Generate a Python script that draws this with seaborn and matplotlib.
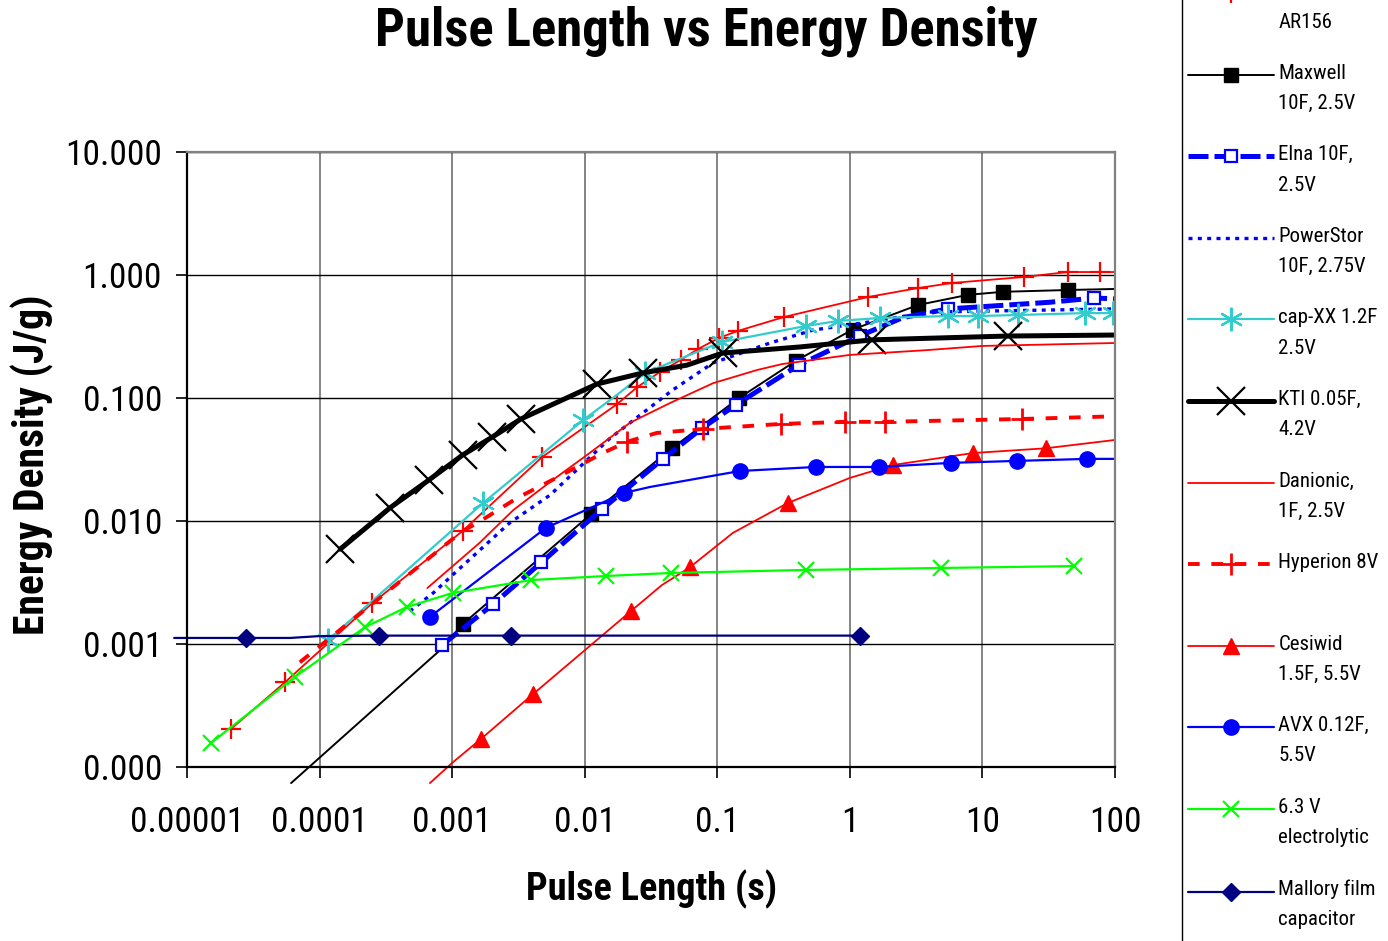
import numpy as np
import matplotlib
matplotlib.use("Agg")
import matplotlib.pyplot as plt
import seaborn as sns
from matplotlib.legend_handler import HandlerLine2D
from matplotlib.ticker import FixedLocator, FixedFormatter, NullLocator

sns.set_theme(style="white")
plt.rcParams['font.family'] = ['Roboto Condensed', 'DejaVu Sans']

# Data (pulse length in s, energy density in J/g)
ar156_x = [2.15e-5, 5.5e-5, 2.5e-4, 1.2e-3, 4.75e-3, 0.0175, 0.025, 0.037, 0.053, 0.0715, 0.103, 0.143, 0.32, 1.37, 3.26, 5.9, 20.5, 44, 77, 100]
ar156_y = [2.04e-4, 4.9e-4, 2.15e-3, 8.3e-3, 0.033, 0.089, 0.123, 0.163, 0.204, 0.25, 0.308, 0.351, 0.456, 0.662, 0.783, 0.861, 0.964, 1.057, 1.057, 1.057]
ar156_mk = list(range(19))

maxwell_x = [6.1e-5, 8.1e-4, 1.2e-3, 0.0112, 0.0455, 0.146, 0.39, 1.05, 3.26, 7.8, 14.3, 44, 100]
maxwell_y = [7.4e-5, 8.9e-4, 1.45e-3, 0.0114, 0.039, 0.1, 0.2, 0.36, 0.57, 0.69, 0.73, 0.755, 0.77]
maxwell_mk = [2, 3, 4, 5, 6, 7, 8, 9, 10, 11]

elna_x = [8.4e-4, 2.03e-3, 4.7e-3, 0.0135, 0.039, 0.077, 0.138, 0.41, 1.19, 2.5, 5.5, 32, 70, 100]
elna_y = [9.8e-4, 2.1e-3, 4.6e-3, 0.0125, 0.032, 0.057, 0.088, 0.185, 0.32, 0.45, 0.53, 0.60, 0.65, 0.64]
elna_mk = [0, 1, 2, 3, 4, 5, 6, 7, 8, 10, 12]

powerstor_x = [4.8e-4, 7.2e-4, 1.15e-3, 2.7e-3, 5.5e-3, 0.0155, 0.046, 0.093, 0.25, 0.53, 1.4, 4.0, 100]
powerstor_y = [1.85e-3, 2.6e-3, 4.15e-3, 9.6e-3, 0.0163, 0.047, 0.116, 0.193, 0.28, 0.357, 0.415, 0.5, 0.53]

capxx_x = [1.16e-4, 1.71e-3, 9.7e-3, 0.0175, 0.0284, 0.108, 0.466, 0.81, 1.68, 5.48, 9.2, 18.5, 59, 96]
capxx_y = [1.08e-3, 0.014, 0.066, 0.106, 0.16, 0.285, 0.385, 0.423, 0.447, 0.464, 0.464, 0.473, 0.49, 0.49]
capxx_mk = [0, 1, 2, 4, 5, 6, 7, 8, 9, 10, 11, 12, 13]

kti_x = [1.43e-4, 3.4e-4, 6.7e-4, 1.2e-3, 2.0e-3, 3.3e-3, 6.3e-3, 0.0124, 0.0275, 0.059, 0.11, 0.42, 1.47, 15.5, 100]
kti_y = [5.9e-3, 0.0128, 0.0216, 0.0344, 0.048, 0.0675, 0.093, 0.13, 0.16, 0.185, 0.232, 0.26, 0.297, 0.319, 0.325]
kti_mk = [0, 1, 2, 3, 4, 5, 7, 8, 10, 12, 13]

danionic_x = [6.5e-4, 1.6e-3, 2.9e-3, 5.75e-3, 0.0104, 0.022, 0.044, 0.093, 0.2, 0.31, 1.0, 3.8, 10, 100]
danionic_y = [2.85e-3, 6.6e-3, 0.0123, 0.0216, 0.0344, 0.063, 0.091, 0.132, 0.169, 0.189, 0.224, 0.245, 0.265, 0.28]

hyperion_x = [7.1e-5, 1.2e-3, 1.54e-3, 3.1e-3, 6.3e-3, 0.0137, 0.0208, 0.035, 0.078, 0.3, 0.92, 1.84, 19.8, 100]
hyperion_y = [7.1e-4, 8.3e-3, 9.6e-3, 0.0154, 0.0228, 0.0357, 0.044, 0.052, 0.056, 0.0615, 0.064, 0.064, 0.0675, 0.071]
hyperion_mk = [6, 8, 9, 10, 11, 12]

cesiwid_x = [6.8e-4, 1.0e-3, 1.65e-3, 4.06e-3, 0.0223, 0.038, 0.062, 0.131, 0.34, 1.0, 2.1, 8.5, 30, 100]
cesiwid_y = [7.4e-5, 1.08e-4, 1.69e-4, 3.9e-4, 1.85e-3, 3.0e-3, 4.2e-3, 8.0e-3, 0.014, 0.0224, 0.0285, 0.0357, 0.039, 0.0456]
cesiwid_mk = [2, 3, 4, 6, 8, 10, 11, 12]

avx_x = [6.8e-4, 5.1e-3, 0.0198, 0.031, 0.148, 0.555, 1.66, 5.8, 18.2, 62, 100]
avx_y = [1.66e-3, 8.8e-3, 0.0169, 0.0189, 0.0255, 0.0275, 0.0275, 0.0297, 0.0308, 0.032, 0.032]
avx_mk = [0, 1, 2, 4, 5, 6, 7, 8, 9]

elec_x = [1.52e-5, 6.5e-5, 2.2e-4, 4.56e-4, 1.01e-3, 3.93e-3, 0.01445, 0.0447, 0.466, 4.85, 48.9]
elec_y = [1.57e-4, 5.39e-4, 1.37e-3, 2.0e-3, 2.6e-3, 3.31e-3, 3.57e-3, 3.78e-3, 4.0e-3, 4.15e-3, 4.3e-3]

mallory_x = [8e-6, 2.8e-5, 6e-5, 1.0e-4, 2.8e-4, 2.8e-3, 1.2]
mallory_y = [1.12e-3, 1.12e-3, 1.12e-3, 1.16e-3, 1.17e-3, 1.17e-3, 1.17e-3]
mallory_mk = [1, 4, 5, 6]

x_ticks = [1e-5, 1e-4, 1e-3, 1e-2, 1e-1, 1, 10, 100]
x_tick_labels = ['0.00001', '0.0001', '0.001', '0.01', '0.1', '1', '10', '100']
y_ticks = [1e-4, 1e-3, 1e-2, 1e-1, 1, 10]
y_tick_labels = ['0.000', '0.001', '0.010', '0.100', '1.000', '10.000']

series = [
    # label, x, y, style kwargs  (first line of the top label is cut off in the original)
    (' \nAR156', ar156_x, ar156_y,
     dict(color='#FF0000', lw=1.3, marker='+', ms=14, mew=1.6, markevery=ar156_mk)),
    ('Maxwell\n10F, 2.5V', maxwell_x, maxwell_y,
     dict(color='black', lw=1.4, marker='s', ms=10, mew=1, markevery=maxwell_mk, clip_on=False)),
    ('Elna 10F,\n2.5V', elna_x, elna_y,
     dict(color='#0000FF', lw=3.6, ls=(0, (4, 1.2)), marker='s', ms=9, mew=1.6, mfc='white',
          markevery=elna_mk)),
    ('PowerStor\n10F, 2.75V', powerstor_x, powerstor_y,
     dict(color='#0000FF', lw=2.4, ls=(0, (1.2, 1.6)))),
    ('cap-XX 1.2F    \n2.5V', capxx_x, capxx_y,
     dict(color='#33CCCC', lw=1.6, marker=(6, 2, 0), ms=17, mew=1.6, markevery=capxx_mk)),
    ('KTI 0.05F,\n4.2V', kti_x, kti_y,
     dict(color='black', lw=3.6, marker='x', ms=20, mew=1.6, markevery=kti_mk)),
    ('Danionic,\n1F, 2.5V', danionic_x, danionic_y,
     dict(color='#FF0000', lw=1.3)),
    ('Hyperion 8V\n ', hyperion_x, hyperion_y,
     dict(color='#FF0000', lw=2.8, ls=(0, (3, 3)), marker='+', ms=16, mew=2, markevery=hyperion_mk)),
    ('Cesiwid\n1.5F, 5.5V', cesiwid_x, cesiwid_y,
     dict(color='#FF0000', lw=1.3, marker='^', ms=11, mew=1, markevery=cesiwid_mk, clip_on=False)),
    ('AVX 0.12F,\n5.5V', avx_x, avx_y,
     dict(color='#0000FF', lw=1.6, marker='o', ms=11, mew=1, markevery=avx_mk)),
    ('6.3 V\nelectrolytic', elec_x, elec_y,
     dict(color='#00FF00', lw=1.6, marker='x', ms=11, mew=1.6)),
    ('Mallory film\ncapacitor\n ', mallory_x, mallory_y,
     dict(color='#000080', lw=1.6, marker='D', ms=9, mew=1, markevery=mallory_mk, clip_on=False)),
]

fig = plt.figure(figsize=(13.88, 9.41), dpi=100)
fig.patch.set_facecolor('white')
ax = fig.add_axes([187 / 1388, 1 - 767 / 941, 928 / 1388, 615 / 941])
ax.set_xscale('log')
ax.set_yscale('log')

for label, xs, ys, kw in series:
    kw = dict(kw)
    kw.setdefault('markeredgecolor', kw['color'])
    sns.lineplot(x=xs, y=ys, ax=ax, label=label, legend=False, sort=False, **kw)

ax.set_xlim(1e-5, 100)
ax.set_ylim(1e-4, 10)
ax.xaxis.set_major_locator(FixedLocator(x_ticks))
ax.xaxis.set_major_formatter(FixedFormatter(x_tick_labels))
ax.yaxis.set_major_locator(FixedLocator(y_ticks))
ax.yaxis.set_major_formatter(FixedFormatter(y_tick_labels))
ax.xaxis.set_minor_locator(NullLocator())
ax.yaxis.set_minor_locator(NullLocator())

ax.set_axisbelow(True)
ax.xaxis.grid(True, color='#707070', lw=1.2)
ax.yaxis.grid(True, color='black', lw=1.0)
for side in ['left', 'bottom']:
    ax.spines[side].set_color('black')
    ax.spines[side].set_linewidth(1.6)
for side in ['top', 'right']:
    ax.spines[side].set_color('#808080')
    ax.spines[side].set_linewidth(1.6)

ax.tick_params(axis='both', which='major', bottom=True, left=True, direction='out',
               length=8, width=1.2, color='black', labelsize=25.5, labelcolor='black')
ax.tick_params(axis='x', pad=20)
ax.tick_params(axis='y', pad=10)
ax.set_xlabel('')
ax.set_ylabel('')

fig.text(706 / 1388, 1 - 31 / 941, 'Pulse Length vs Energy Density', ha='center', va='center',
         fontsize=38, fontweight='bold', color='black')
fig.text(652 / 1388, 1 - 889 / 941, 'Pulse Length (s)', ha='center', va='center',
         fontsize=27.5, fontweight='bold', color='black')
fig.text(32 / 1388, 1 - 465 / 941, 'Energy Density (J/g)', ha='center', va='center',
         rotation=90, fontsize=30, fontweight='bold', color='black')


class FirstLineHandler(HandlerLine2D):
    # put the legend sample on the first text line, as in the original
    def __init__(self, nlines=2, **kw):
        super().__init__(**kw)
        self.nlines = nlines

    def create_artists(self, legend, orig_handle, xdescent, ydescent, width, height, fontsize, trans):
        arts = super().create_artists(legend, orig_handle, xdescent, ydescent, width, height, fontsize, trans)
        for a in arts:
            a.set_ydata(np.asarray(a.get_ydata()) + 0.66 * fontsize * (self.nlines - 1))
        return arts


handles = ax.get_lines()
labels = [s[0] for s in series]
hmap = {h: FirstLineHandler(nlines=lab.count('\n') + 1) for h, lab in zip(handles, labels)}
leg = fig.legend(handles, labels, loc='upper left', bbox_to_anchor=(1182 / 1388, 1 + 24 / 941),
                 frameon=True, fancybox=False, edgecolor='black', facecolor='white', framealpha=1,
                 fontsize=15, handlelength=4.13, handletextpad=0.2, borderpad=0.3,
                 borderaxespad=0, labelspacing=1.55, handler_map=hmap)
leg.get_frame().set_linewidth(1.0)
for t in leg.get_texts():
    t.set_linespacing(1.75)
    t.set_color('black')

fig.savefig('out.png', dpi=100, facecolor='white')
